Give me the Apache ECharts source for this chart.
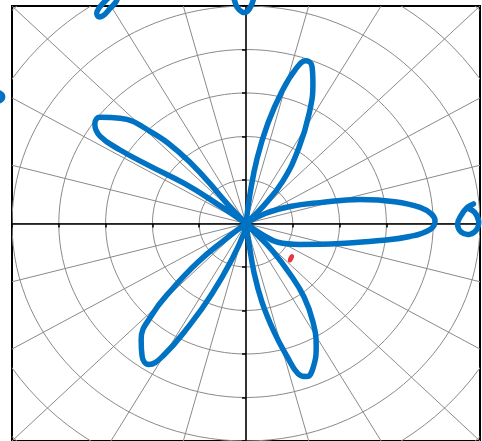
<!DOCTYPE html>
<html>
<head>
<meta charset="utf-8">
<script src="https://cdn.jsdelivr.net/npm/echarts@6/dist/echarts.min.js"></script>
<style>
  html, body { margin: 0; padding: 0; background: #fff; }
  #chart { width: 482px; height: 441px; }
</style>
</head>
<body>
<div id="chart"></div>
<script>
// Polar reference grid: ring radii and spoke angles (degrees)
const gridRings = [1, 2, 3, 4, 5, 6, 7];
const spokeAngles = [0, 15, 30, 45, 60, 75, 90, 105, 120, 135, 150, 165,
                     180, 195, 210, 225, 240, 255, 270, 285, 300, 315, 330, 345];

// Five-petal rose, each petal traced out from the origin and back
const petalRight = [[0,0],[0.41,0.23],[0.94,0.39],[1.58,0.48],[2.44,0.55],[3.18,0.50],[3.72,0.37],
  [3.97,0.21],[4.04,0.05],[3.93,-0.14],[3.50,-0.30],[2.86,-0.39],[2.01,-0.46],[1.15,-0.48],
  [0.68,-0.43],[0.34,-0.25],[0,0]];
const petalUpper = [[0,0],[0.09,0.71],[0.24,1.51],[0.47,2.31],[0.77,3.04],[1.07,3.56],[1.28,3.74],
  [1.41,3.61],[1.43,3.22],[1.35,2.53],[1.13,1.74],[0.79,0.98],[0.38,0.41],[0,0]];
const petalUpperLeft = [[0,0],[-0.38,0.43],[-0.88,1.05],[-1.41,1.62],[-2.05,2.12],[-2.69,2.42],
  [-3.12,2.44],[-3.23,2.28],[-3.12,2.01],[-2.69,1.69],[-2.05,1.32],[-1.30,0.91],[-0.66,0.48],[0,0]];
const petalLowerLeft = [[0,0],[-0.45,-0.37],[-1.03,-0.89],[-1.58,-1.51],[-2.01,-2.10],[-2.24,-2.67],
  [-2.22,-3.05],[-2.08,-3.24],[-1.78,-3.05],[-1.20,-2.33],[-0.73,-1.62],[-0.30,-0.82],[-0.04,-0.21],[0,0]];
const petalLower = [[0,0],[0.06,-0.43],[0.17,-1.12],[0.34,-1.80],[0.60,-2.49],[0.88,-3.06],[1.11,-3.45],
  [1.30,-3.52],[1.43,-3.33],[1.50,-2.83],[1.43,-2.26],[1.24,-1.69],[0.94,-1.16],[0.56,-0.62],
  [0.21,-0.23],[0,0]];

// Small loops lying on the plot border
const loopRight = [[4.86,0.45],[4.72,0.36],[4.58,0.16],[4.52,-0.02],[4.60,-0.20],[4.78,-0.25],
  [4.93,-0.14],[4.97,0.06],[4.88,0.26],[4.72,0.36]];
const loopTop = [[-0.30,5.30],[-0.25,5.14],[-0.19,4.97],[-0.08,4.86],[0.03,4.88],[0.12,5.03],
  [0.16,5.16],[0.20,5.30]];
const loopTopLeft = [[-2.84,5.28],[-3.03,5.09],[-3.18,4.88],[-3.16,4.76],[-3.05,4.78],
  [-2.90,4.95],[-2.77,5.11],[-2.73,5.28]];
const loopLeft = [[-5.40,3.05],[-5.24,2.98],[-5.20,2.91],[-5.24,2.84],[-5.40,2.77]];

// Single highlighted point
const marker = [[0.96,-0.80]];

const axisTicks = [-5, -4, -3, -2, -1, 0, 1, 2, 3, 4, 5];

const BLUE = '#0072c4';
const GRID_GRAY = '#8a8a8a';
const CURVE_WIDTH = 5.5;

function curveSeries(data) {
  return {
    type: 'line', data: data, showSymbol: false, smooth: 0.45,
    clip: true, z: 5, silent: true, animation: false,
    lineStyle: { color: BLUE, width: CURVE_WIDTH, cap: 'round', join: 'round' }
  };
}

// Border loops drawn as one smoothed polyline per loop, placed through the axes
function loopSeries(points) {
  return {
    type: 'custom', clip: false, z: 5, silent: true,
    data: [points[0]],
    renderItem: function (params, api) {
      return {
        type: 'polyline',
        shape: { points: points.map(p => api.coord(p)), smooth: 0.4 },
        style: { fill: 'none', stroke: BLUE, lineWidth: CURVE_WIDTH, lineCap: 'round', lineJoin: 'round' }
      };
    }
  };
}

const chart = echarts.init(document.getElementById('chart'), null, { renderer: 'canvas' });

const option = {
  animation: false,
  backgroundColor: '#fff',
  grid: {
    left: 12, top: 6, width: 468, height: 438,
    show: true, borderColor: '#000', borderWidth: 2, backgroundColor: 'transparent'
  },
  xAxis: {
    type: 'value', min: axisTicks[0], max: axisTicks[axisTicks.length - 1], interval: 1,
    z: 4,
    axisLine: { onZero: true, lineStyle: { color: '#000', width: 1.5 } },
    axisTick: { show: true, length: 4, lineStyle: { color: '#000', width: 1.5 } },
    axisLabel: { show: false },
    splitLine: { show: false }
  },
  yAxis: {
    type: 'value', min: axisTicks[0], max: axisTicks[axisTicks.length - 1], interval: 1,
    z: 4,
    axisLine: { onZero: true, lineStyle: { color: '#000', width: 1.5 } },
    axisTick: { show: true, length: 4, lineStyle: { color: '#000', width: 1.5 } },
    axisLabel: { show: false },
    splitLine: { show: false }
  },
  series: [
    {
      type: 'custom', clip: true, z: 1, silent: true,
      data: gridRings.map(r => [r, 0]),
      renderItem: function (params, api) {
        const r = api.value(0);
        const c = api.coord([0, 0]);
        const s = api.size([r, r]);
        return {
          type: 'ellipse',
          shape: { cx: c[0], cy: c[1], rx: s[0], ry: s[1] },
          style: { fill: 'none', stroke: GRID_GRAY, lineWidth: 1 }
        };
      }
    },
    {
      type: 'custom', clip: true, z: 1, silent: true,
      data: spokeAngles.map(a => [a, 0]),
      renderItem: function (params, api) {
        const a = api.value(0) * Math.PI / 180;
        const p0 = api.coord([0, 0]);
        const p1 = api.coord([9 * Math.cos(a), 9 * Math.sin(a)]);
        return {
          type: 'line',
          shape: { x1: p0[0], y1: p0[1], x2: p1[0], y2: p1[1] },
          style: { stroke: GRID_GRAY, lineWidth: 1 }
        };
      }
    },
    curveSeries(petalRight),
    curveSeries(petalUpper),
    curveSeries(petalUpperLeft),
    curveSeries(petalLowerLeft),
    curveSeries(petalLower),
    loopSeries(loopRight),
    loopSeries(loopTop),
    loopSeries(loopTopLeft),
    loopSeries(loopLeft),
    {
      type: 'scatter', data: marker, symbol: 'circle', symbolSize: [5, 9], symbolRotate: -25,
      z: 6, silent: true, itemStyle: { color: '#e8000b' }
    }
  ]
};

chart.setOption(option);
</script>
</body>
</html>
